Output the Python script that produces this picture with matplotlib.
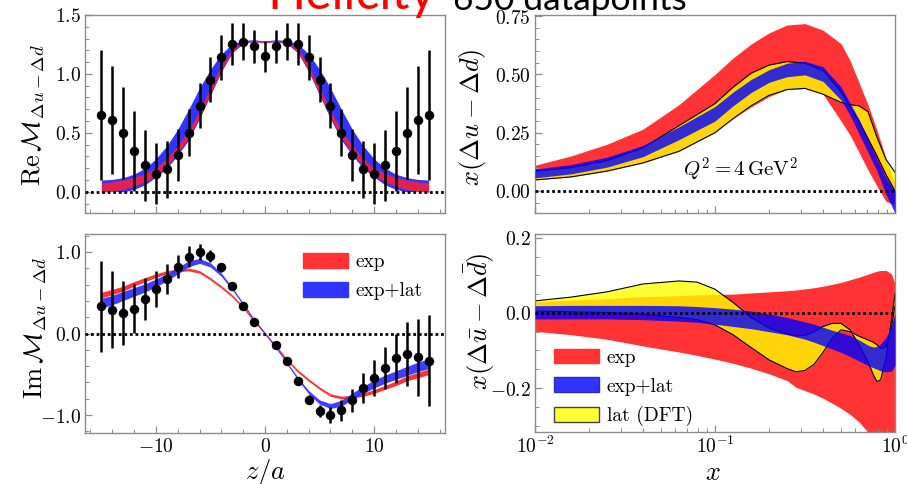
import numpy as np
import matplotlib.pyplot as plt
from matplotlib.patches import Patch
from matplotlib.ticker import MultipleLocator, LogLocator, NullFormatter

plt.rcParams['mathtext.fontset'] = 'cm'

# ---- lattice matrix elements (symmetrised) vs z/a ----
z_pts = list(range(-15, 16))
re_pts = [0.65, 0.61, 0.50, 0.345, 0.225, 0.155, 0.19, 0.31, 0.50, 0.73, 0.95, 1.14, 1.255, 1.275, 1.235, 1.15,
          1.235, 1.275, 1.255, 1.14, 0.95, 0.73, 0.50, 0.31, 0.19, 0.155, 0.225, 0.345, 0.50, 0.61, 0.65]
re_err = [0.55, 0.46, 0.39, 0.34, 0.30, 0.26, 0.24, 0.22, 0.20, 0.19, 0.19, 0.19, 0.175, 0.16, 0.14, 0.13,
          0.14, 0.16, 0.175, 0.19, 0.19, 0.19, 0.20, 0.22, 0.24, 0.26, 0.30, 0.34, 0.39, 0.46, 0.55]

im_z = [-15, -14, -13, -12, -11, -10, -9, -8, -7, -6, -5, -4, -3, -2, -1,
        1, 2, 3, 4, 5, 6, 7, 8, 9, 10, 11, 12, 13, 14, 15]
im_pts = [0.335, 0.294, 0.253, 0.306, 0.42, 0.55, 0.67, 0.82, 0.94, 1.0, 0.95, 0.81, 0.58, 0.34, 0.14,
          -0.14, -0.34, -0.58, -0.81, -0.95, -1.0, -0.94, -0.82, -0.67, -0.55, -0.42, -0.306, -0.253, -0.294, -0.335]
im_err = [0.56, 0.47, 0.39, 0.30, 0.26, 0.22, 0.18, 0.14, 0.13, 0.10, 0.07, 0.06, 0.045, 0.035, 0.03,
          0.03, 0.035, 0.045, 0.06, 0.07, 0.10, 0.13, 0.14, 0.18, 0.22, 0.26, 0.30, 0.39, 0.47, 0.56]

# fitted bands on the z/a grid
z_band = list(range(-15, 16))
re_exp_lo = [-0.005, 0.005, 0.02, 0.047, 0.085, 0.137, 0.218, 0.328, 0.458, 0.63, 0.833, 1.028, 1.185, 1.262, 1.275, 1.265,
             1.275, 1.262, 1.185, 1.028, 0.833, 0.63, 0.458, 0.328, 0.218, 0.137, 0.085, 0.047, 0.02, 0.005, -0.005]
re_exp_hi = [0.075, 0.085, 0.10, 0.123, 0.155, 0.203, 0.282, 0.392, 0.522, 0.69, 0.887, 1.072, 1.215, 1.278, 1.285, 1.275,
             1.285, 1.278, 1.215, 1.072, 0.887, 0.69, 0.522, 0.392, 0.282, 0.203, 0.155, 0.123, 0.10, 0.085, 0.075]
re_lat_lo = [0.0, 0.005, 0.0, 0.02, 0.06, 0.125, 0.20, 0.31, 0.44, 0.62, 0.82, 1.02, 1.18, 1.258, 1.275, 1.265,
             1.275, 1.258, 1.18, 1.02, 0.82, 0.62, 0.44, 0.31, 0.20, 0.125, 0.06, 0.02, 0.0, 0.005, 0.0]
re_lat_hi = [0.10, 0.105, 0.12, 0.15, 0.20, 0.28, 0.39, 0.53, 0.70, 0.88, 1.04, 1.17, 1.255, 1.285, 1.29, 1.28,
             1.29, 1.285, 1.255, 1.17, 1.04, 0.88, 0.70, 0.53, 0.39, 0.28, 0.20, 0.15, 0.12, 0.105, 0.10]

im_exp_lo = [0.435, 0.477, 0.52, 0.582, 0.635, 0.688, 0.73, 0.757, 0.768, 0.739, 0.655, 0.555, 0.445, 0.305, 0.145, -0.015,
             -0.175, -0.335, -0.475, -0.585, -0.685, -0.771, -0.802, -0.793, -0.77, -0.732, -0.685, -0.638, -0.58, -0.543, -0.505]
im_exp_hi = [0.505, 0.543, 0.58, 0.638, 0.685, 0.732, 0.77, 0.793, 0.802, 0.771, 0.685, 0.585, 0.475, 0.335, 0.175, 0.015,
             -0.145, -0.305, -0.445, -0.555, -0.655, -0.739, -0.768, -0.757, -0.73, -0.688, -0.635, -0.582, -0.52, -0.477, -0.435]
im_lat_lo = [0.31, 0.352, 0.405, 0.458, 0.51, 0.573, 0.646, 0.73, 0.819, 0.86, 0.815, 0.70, 0.534, 0.347, 0.16, -0.008,
             -0.18, -0.373, -0.566, -0.74, -0.865, -0.92, -0.891, -0.81, -0.734, -0.667, -0.61, -0.562, -0.515, -0.468, -0.43]
im_lat_hi = [0.43, 0.468, 0.515, 0.562, 0.61, 0.667, 0.734, 0.81, 0.891, 0.92, 0.865, 0.74, 0.566, 0.373, 0.18, 0.008,
             -0.16, -0.347, -0.534, -0.70, -0.815, -0.86, -0.819, -0.73, -0.646, -0.573, -0.51, -0.458, -0.405, -0.352, -0.31]

# ---- x(Δu-Δd) at Q^2 = 4 GeV^2, log10(x) grid ----
lx_val = [-2.0, -1.8, -1.6, -1.4, -1.2, -1.0, -0.9, -0.8, -0.7, -0.6, -0.5, -0.4, -0.3, -0.25, -0.2, -0.15, -0.1, -0.05, 0.0]
val_exp_lo = [0.047, 0.06, 0.085, 0.12, 0.17, 0.25, 0.31, 0.36, 0.405, 0.435, 0.44, 0.415, 0.30, 0.24, 0.165, 0.09, 0.02, -0.045, -0.06]
val_exp_hi = [0.11, 0.15, 0.20, 0.265, 0.37, 0.50, 0.57, 0.63, 0.678, 0.712, 0.718, 0.69, 0.632, 0.56, 0.465, 0.37, 0.26, 0.14, 0.03]
val_lat_a = [0.085, 0.10, 0.13, 0.185, 0.28, 0.375, 0.445, 0.505, 0.54, 0.555, 0.548, 0.518, 0.425, 0.36, 0.30, 0.225, 0.15, 0.07, 0.0]
val_lat_b = [0.047, 0.06, 0.085, 0.12, 0.17, 0.25, 0.31, 0.365, 0.41, 0.435, 0.44, 0.415, 0.38, 0.37, 0.365, 0.34, 0.23, 0.135, 0.08]
val_both_lo = [0.056, 0.073, 0.102, 0.147, 0.22, 0.30, 0.365, 0.422, 0.466, 0.49, 0.498, 0.47, 0.39, 0.325, 0.245, 0.165, 0.085, -0.015, -0.095]
val_both_hi = [0.094, 0.113, 0.145, 0.195, 0.275, 0.362, 0.424, 0.478, 0.52, 0.548, 0.556, 0.533, 0.447, 0.378, 0.307, 0.222, 0.137, 0.057, 0.0]

# ---- x(Δū-Δd̄) ----
lx_sea = [-2.0, -1.8, -1.6, -1.4, -1.2, -1.1, -1.0, -0.9, -0.8, -0.7, -0.6, -0.55, -0.5, -0.45, -0.4, -0.35,
          -0.3, -0.25, -0.2, -0.15, -0.12, -0.1, -0.08, -0.05, -0.02, 0.0]
sea_exp_lo = [-0.049, -0.058, -0.07, -0.088, -0.104, -0.113, -0.123, -0.134, -0.147, -0.162, -0.18, -0.198, -0.207, -0.216,
              -0.227, -0.24, -0.254, -0.27, -0.29, -0.318, -0.34, -0.36, -0.38, -0.40, -0.42, -0.43]
sea_exp_hi = [0.03, 0.034, 0.038, 0.043, 0.046, 0.048, 0.049, 0.05, 0.053, 0.056, 0.059, 0.061, 0.064, 0.067,
              0.071, 0.076, 0.081, 0.088, 0.095, 0.103, 0.108, 0.111, 0.113, 0.113, 0.104, 0.077]
sea_lat_a = [0.032, 0.042, 0.056, 0.077, 0.085, 0.082, 0.063, 0.028, -0.012, -0.04, -0.056, -0.061, -0.06, -0.05,
             -0.036, -0.028, -0.028, -0.045, -0.085, -0.13, -0.165, -0.183, -0.178, -0.12, -0.02, 0.05]
sea_lat_b = [0.005, 0.003, 0.001, -0.004, -0.012, -0.018, -0.032, -0.058, -0.092, -0.125, -0.148, -0.157, -0.153, -0.137,
             -0.105, -0.068, -0.045, -0.05, -0.062, -0.072, -0.078, -0.085, -0.095, -0.09, -0.04, 0.02]
sea_both_lo = [-0.016, -0.016, -0.016, -0.018, -0.022, -0.025, -0.03, -0.036, -0.042, -0.05, -0.058, -0.064, -0.07, -0.078,
               -0.087, -0.096, -0.105, -0.116, -0.128, -0.14, -0.146, -0.15, -0.154, -0.157, -0.155, -0.14]
sea_both_hi = [0.019, 0.02, 0.02, 0.02, 0.019, 0.017, 0.014, 0.01, 0.005, -0.003, -0.012, -0.018, -0.024, -0.03,
               -0.038, -0.046, -0.053, -0.06, -0.072, -0.086, -0.091, -0.089, -0.083, -0.065, -0.035, -0.003]

RED = '#ff3333'
BLUE = '#0000ff'
YELLOW = '#ffff00'
SPINE = '#8c8c8c'
TICK_FS = 14
LABEL_FS = 19

W, H = 907, 484
fig = plt.figure(figsize=(W / 100, H / 100), dpi=100)


def add_ax(l, t, r, b):
    return fig.add_axes([l / W, 1 - b / H, (r - l) / W, (b - t) / H])


def style(ax):
    for s in ax.spines.values():
        s.set_color(SPINE)
        s.set_linewidth(1.0)
    ax.tick_params(which='both', direction='in', color=SPINE, labelsize=TICK_FS, pad=3)
    ax.tick_params(which='major', length=5, width=0.9)
    ax.tick_params(which='minor', length=2.7, width=0.7)
    ax.axhline(0, color='k', lw=2.0, ls=(0, (1, 1)), zorder=4)


ax_re = add_ax(85, 15, 445, 213)
ax_im = add_ax(85, 234, 445, 433)
ax_val = add_ax(535, 15, 895, 213)
ax_sea = add_ax(535, 234, 895, 432)

# Re part
ax_re.fill_between(z_band, re_lat_lo, re_lat_hi, color='#3333ff', lw=0, zorder=2)
ax_re.fill_between(z_band, re_exp_lo, re_exp_hi, color='#ff1f2f', alpha=0.85, lw=0, zorder=3)
ax_re.errorbar(z_pts, re_pts, yerr=re_err, fmt='o', color='k', ms=5.8, elinewidth=1.8, capsize=0, zorder=5)
ax_re.set_xlim(-16.5, 16.5)
ax_re.set_ylim(-0.18, 1.5)
ax_re.set_yticks([0, 0.5, 1.0, 1.5], labels=[r'$0.0$', r'$0.5$', r'$1.0$', r'$1.5$'])
ax_re.set_xticks([-10, 0, 10], labels=[])
ax_re.yaxis.set_minor_locator(MultipleLocator(0.1))
ax_re.xaxis.set_minor_locator(MultipleLocator(2))
ax_re.set_ylabel(r'$\mathrm{Re}\,\mathcal{M}_{\Delta u-\Delta d}$', fontsize=LABEL_FS)
ax_re.yaxis.set_label_coords(-0.105, 0.495)

# Im part
ax_im.fill_between(z_band, im_exp_lo, im_exp_hi, color=RED, lw=0, zorder=2)
ax_im.fill_between(z_band, im_lat_lo, im_lat_hi, color='#3333ff', alpha=0.95, lw=0, zorder=3)
ax_im.errorbar(im_z, im_pts, yerr=im_err, fmt='o', color='k', ms=5.8, elinewidth=1.8, capsize=0, zorder=5)
ax_im.set_xlim(-16.5, 16.5)
ax_im.set_ylim(-1.22, 1.22)
ax_im.set_yticks([-1, 0, 1], labels=[r'$-1.0$', r'$0.0$', r'$1.0$'])
ax_im.set_xticks([-10, 0, 10], labels=[r'$-10$', r'$0$', r'$10$'])
ax_im.yaxis.set_minor_locator(MultipleLocator(0.2))
ax_im.xaxis.set_minor_locator(MultipleLocator(2))
ax_im.tick_params(axis='x', pad=7)
ax_im.set_ylabel(r'$\mathrm{Im}\,\mathcal{M}_{\Delta u-\Delta d}$', fontsize=LABEL_FS)
ax_im.yaxis.set_label_coords(-0.1, 0.53)
ax_im.set_xlabel(r'$z/a$', fontsize=LABEL_FS)
ax_im.xaxis.set_label_coords(0.5, -0.12)
ax_im.legend(handles=[Patch(facecolor=RED, edgecolor=RED), Patch(facecolor='#3333ff', edgecolor='#3333ff')],
             labels=['exp', 'exp+lat'], prop={'family': 'cmr10', 'size': 14}, frameon=False,
             loc='upper left', bbox_to_anchor=(0.605, 0.905), handlelength=2.3, handleheight=0.8,
             handletextpad=0.4, labelspacing=0.55, borderpad=0, borderaxespad=0)

# valence combination
x_val = [10 ** v for v in lx_val]
ax_val.fill_between(x_val, val_exp_lo, val_exp_hi, color=RED, lw=0, zorder=1)
ax_val.fill_between(x_val, val_lat_a, val_lat_b, color=YELLOW, alpha=0.8, lw=0, zorder=2)
ax_val.plot(x_val, val_lat_a, color='k', lw=0.8, zorder=2.5)
ax_val.plot(x_val, val_lat_b, color='k', lw=0.8, zorder=2.5)
ax_val.fill_between(x_val, val_both_lo, val_both_hi, color=BLUE, alpha=0.8, lw=0, zorder=3)
ax_val.set_xscale('log')
ax_val.set_xlim(0.01, 1)
ax_val.set_ylim(-0.095, 0.755)
ax_val.set_yticks([0, 0.25, 0.5, 0.75], labels=[r'$0.00$', r'$0.25$', r'$0.50$', r'$0.75$'])
ax_val.yaxis.set_minor_locator(MultipleLocator(0.05))
ax_val.xaxis.set_major_locator(LogLocator(base=10, numticks=5))
ax_val.xaxis.set_minor_locator(LogLocator(base=10, subs=np.arange(2, 10), numticks=20))
ax_val.xaxis.set_major_formatter(NullFormatter())
ax_val.xaxis.set_minor_formatter(NullFormatter())
ax_val.text(0.139, 0.09, r'$Q^2 = 4\,\mathrm{GeV}^2$', fontsize=15, ha='center', va='center')
ax_val.set_ylabel(r'$x(\Delta u - \Delta d)$', fontsize=LABEL_FS)
ax_val.yaxis.set_label_coords(-0.13, 0.486)

# sea combination
x_sea = [10 ** v for v in lx_sea]
ax_sea.fill_between(x_sea, sea_exp_lo, sea_exp_hi, color=RED, lw=0, zorder=1)
ax_sea.fill_between(x_sea, sea_lat_a, sea_lat_b, color=YELLOW, alpha=0.8, lw=0, zorder=2)
ax_sea.plot(x_sea, sea_lat_a, color='k', lw=0.8, zorder=2.5)
ax_sea.plot(x_sea, sea_lat_b, color='k', lw=0.8, zorder=2.5)
ax_sea.fill_between(x_sea, sea_both_lo, sea_both_hi, color=BLUE, alpha=0.8, lw=0, zorder=3)
ax_sea.set_xscale('log')
ax_sea.set_xlim(0.01, 1)
ax_sea.set_ylim(-0.317, 0.21)
ax_sea.set_yticks([-0.2, 0, 0.2], labels=[r'$-0.2$', r'$0.0$', r'$0.2$'])
ax_sea.yaxis.set_minor_locator(MultipleLocator(0.05))
ax_sea.set_xticks([0.01, 0.1, 1], labels=[r'$10^{-2}$', r'$10^{-1}$', r'$10^{0}$'])
ax_sea.xaxis.set_minor_locator(LogLocator(base=10, subs=np.arange(2, 10), numticks=20))
ax_sea.xaxis.set_minor_formatter(NullFormatter())
ax_sea.tick_params(axis='x', pad=4)
ax_sea.set_ylabel(r'$x(\Delta\bar{u} - \Delta\bar{d})$', fontsize=LABEL_FS)
ax_sea.yaxis.set_label_coords(-0.106, 0.56)
ax_sea.set_xlabel(r'$x$', fontsize=LABEL_FS)
ax_sea.xaxis.set_label_coords(0.494, -0.14)
ax_sea.legend(handles=[Patch(facecolor=RED, edgecolor=RED),
                       Patch(facecolor='#3333ff', edgecolor='#2a2acc'),
                       Patch(facecolor='#ffff33', edgecolor='#444444')],
              labels=['exp', 'exp+lat', 'lat (DFT)'], prop={'family': 'cmr10', 'size': 14}, frameon=False,
              loc='lower left', bbox_to_anchor=(0.053, 0.028), handlelength=2.3, handleheight=0.8,
              handletextpad=0.4, labelspacing=0.55, borderpad=0, borderaxespad=0)

for ax in (ax_re, ax_im, ax_val, ax_sea):
    style(ax)

# slide heading running off the top edge
fig.text(267 / W, 1 - 9.5 / H, 'Helicity', color='red', fontsize=36, family='Lato', va='baseline')
fig.text(453 / W, 1 - 9.5 / H, '650 datapoints', color='k', fontsize=25.5, family='Lato', va='baseline')

fig.savefig('out.png', dpi=100)
